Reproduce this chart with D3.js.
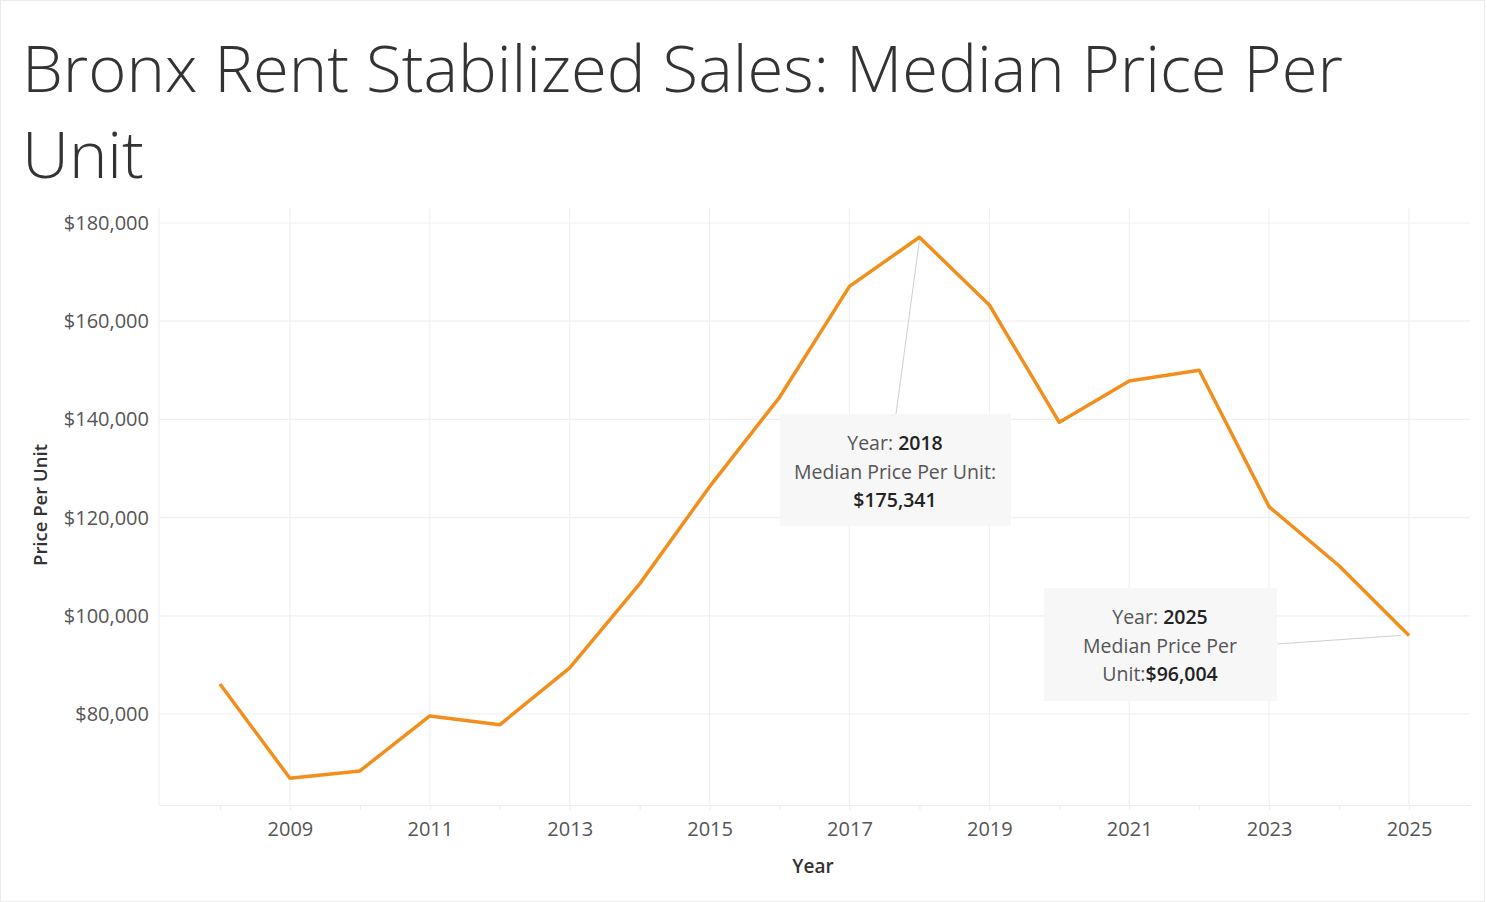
<!DOCTYPE html>
<html>
<head>
<meta charset="utf-8">
<script src="https://cdn.jsdelivr.net/npm/d3@7"></script>
<style>
  body { margin: 0; background: #fff; }
  svg { display: block; }
  text { font-family: "Open Sans", "Noto Sans", sans-serif; }
</style>
</head>
<body>
<script>
// data
const years = [2008, 2009, 2010, 2011, 2012, 2013, 2014, 2015, 2016,
  2017, 2018, 2019, 2020, 2021, 2022, 2023, 2024, 2025];
const prices = [86100, 66900, 68400, 79600, 77800, 89400, 106500, 126300, 144500,
  167100, 177100, 163300, 139400, 147800, 150000, 122200, 110200, 96004];
const yTicks = [80000, 100000, 120000, 140000, 160000, 180000];
const xTickLabels = [2009, 2011, 2013, 2015, 2017, 2019, 2021, 2023, 2025];
const notes = [
  { year: 2018, lines: [["Year: ", "2018"], ["Median Price Per Unit:", ""], ["", "$175,341"]] },
  { year: 2025, lines: [["Year: ", "2025"], ["Median Price Per", ""], ["Unit:", "$96,004"]] }
];

const WIDTH = 1487;
const HEIGHT = 902;

const svg = d3.select('body')
  .append('svg')
  .attr('width', WIDTH)
  .attr('height', HEIGHT);

// faint frame
svg.append('rect')
  .attr('x', 0.5).attr('y', 0.5)
  .attr('width', 1484).attr('height', HEIGHT - 1)
  .attr('fill', 'none')
  .attr('stroke', '#ececec');

// title
const title = svg.append('g').attr('fill', '#333');
const t1 = title.append('text')
  .attr('x', 22).attr('y', 92)
  .style('font-size', '62px')
  .style('font-weight', 300)
  .text('Bronx Rent Stabilized Sales: Median Price Per');
const w = t1.node().getComputedTextLength();
const fs = 62 * 1321 / w;
t1.style('font-size', fs + 'px');
title.append('text')
  .attr('x', 22).attr('y', 178)
  .style('font-size', fs + 'px')
  .style('font-weight', 300)
  .text('Unit');

const x = d3.scaleLinear()
  .domain([2007.128, 2025.872])
  .range([159, 1470]);

const y = d3.scaleLinear()
  .domain([61466, 183055])
  .range([805, 208]);

// gridlines
svg.append('g')
  .selectAll('line')
  .data(yTicks)
  .enter()
  .append('line')
  .attr('x1', 159).attr('x2', 1470)
  .attr('y1', d => y(d)).attr('y2', d => y(d))
  .attr('stroke', '#f0f0f0')
  .attr('stroke-width', 1.2);

svg.append('g')
  .selectAll('line')
  .data(xTickLabels)
  .enter()
  .append('line')
  .attr('x1', d => x(d)).attr('x2', d => x(d))
  .attr('y1', 208).attr('y2', 805)
  .attr('stroke', '#f0f0f0')
  .attr('stroke-width', 1.2);

// left border of pane
svg.append('line')
  .attr('x1', 159).attr('x2', 159)
  .attr('y1', 208).attr('y2', 805)
  .attr('stroke', '#f0f0f0')
  .attr('stroke-width', 1.2);

// x axis
const xAxis = svg.append('g')
  .attr('transform', 'translate(0,805)')
  .call(d3.axisBottom(x)
    .tickValues(years)
    .tickSizeInner(5)
    .tickSizeOuter(0)
    .tickFormat(d => xTickLabels.includes(d) ? d : ''));
xAxis.select('.domain').attr('stroke', '#ececec').attr('stroke-width', 1.2);
xAxis.selectAll('.tick line').attr('stroke', '#ececec');
xAxis.selectAll('.tick text')
  .attr('y', 17)
  .attr('fill', '#555')
  .style('font-size', '20px')
  .style('font-family', '"Open Sans", sans-serif');

// y axis
const yAxis = svg.append('g')
  .attr('transform', 'translate(159,0)')
  .call(d3.axisLeft(y)
    .tickValues(yTicks)
    .tickSize(0)
    .tickFormat(d => '$' + d3.format(',')(d)));
yAxis.select('.domain').remove();
yAxis.selectAll('.tick text')
  .attr('x', -10)
  .attr('fill', '#555')
  .style('font-size', '20px')
  .style('font-family', '"Open Sans", sans-serif');

// axis titles
svg.append('text')
  .attr('transform', 'translate(47,505) rotate(-90)')
  .attr('text-anchor', 'middle')
  .attr('fill', '#333')
  .style('font-size', '18.5px')
  .style('font-weight', 600)
  .text('Price Per Unit');

svg.append('text')
  .attr('x', 813).attr('y', 873)
  .attr('text-anchor', 'middle')
  .attr('fill', '#333')
  .style('font-size', '19px')
  .style('font-weight', 600)
  .text('Year');

// line
const line = d3.line()
  .x((d, i) => x(years[i]))
  .y(d => y(d));

svg.append('path')
  .datum(prices)
  .attr('d', line)
  .attr('fill', 'none')
  .attr('stroke', '#f28e1c')
  .attr('stroke-width', 3.5)
  .attr('stroke-linejoin', 'round');

// annotations
const boxes = [
  { x0: 780, y0: 414, w: 231, h: 112, cx: 895, ty: 450, ax: 896, ay: 414 },
  { x0: 1044, y0: 588, w: 233, h: 113, cx: 1160, ty: 624, ax: 1277, ay: 644 }
];

notes.forEach((n, k) => {
  const b = boxes[k];
  const i = years.indexOf(n.year);
  svg.append('line')
    .attr('x1', b.ax).attr('y1', b.ay)
    .attr('x2', x(years[i]) - (k === 1 ? 8 : 0)).attr('y2', y(prices[i]) + (k === 0 ? 3 : 0))
    .attr('stroke', '#cfcfcf')
    .attr('stroke-width', 1);
  svg.append('rect')
    .attr('x', b.x0).attr('y', b.y0)
    .attr('width', b.w).attr('height', b.h)
    .attr('fill', '#f7f7f7')
    .attr('fill-opacity', 0.95);
  const txt = svg.append('text')
    .attr('text-anchor', 'middle')
    .style('font-size', '19.5px');
  n.lines.forEach((l, j) => {
    const ts = txt.append('tspan')
      .attr('x', b.cx)
      .attr('y', b.ty + j * 28.5);
    if (l[0]) ts.append('tspan').attr('fill', '#555').text(l[0]);
    if (l[1]) ts.append('tspan').attr('fill', '#222').style('font-weight', 600).text(l[1]);
  });
});
</script>
</body>
</html>
